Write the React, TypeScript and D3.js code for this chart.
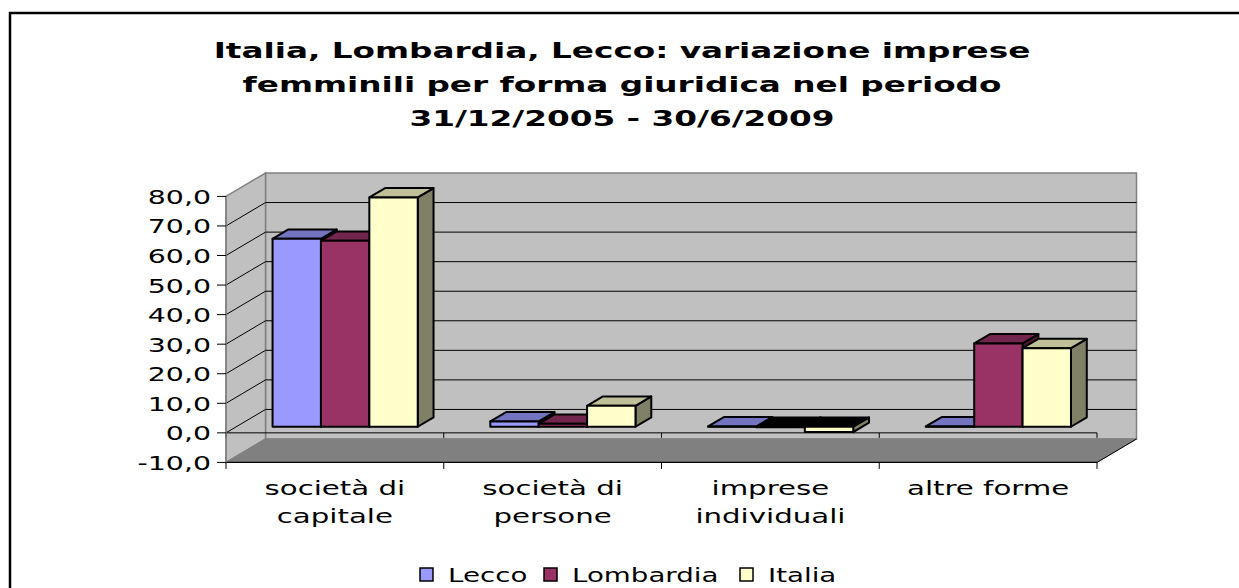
import React from "react";
import * as d3 from "d3";

// ---- data ----
const categories = ["società di capitale", "società di persone", "imprese individuali", "altre forme"];
const categoryLines = [["società di", "capitale"], ["società di", "persone"], ["imprese", "individuali"], ["altre forme"]];
const seriesNames = ["Lecco", "Lombardia", "Italia"];
const lecco = [63.6, 1.8, 0.1, 0.1];
const lombardia = [62.9, 1.0, -0.2, 28.2];
const italia = [77.6, 7.1, -1.8, 26.6];
const seriesValues = [lecco, lombardia, italia];
const seriesColors = ["#9999FF", "#993366", "#FFFFCC"];
const yTicks = [-10, 0, 10, 20, 30, 40, 50, 60, 70, 80];
const titleLines = [
  "Italia, Lombardia, Lecco: variazione imprese",
  "femminili per forma giuridica nel periodo",
  "31/12/2005 - 30/6/2009",
];

const W = 1239;
const H = 588;
const FONT = "Verdana, 'DejaVu Sans', sans-serif";

const fmt = d3
  .formatLocale({ decimal: ",", thousands: ".", grouping: [3], currency: ["", "€"], minus: "-" })
  .format(".1f");

function shade(c: string, k: number) {
  const col = d3.rgb(c);
  return d3.rgb(col.r * k, col.g * k, col.b * k).formatHex();
}

function SText(props: {
  x: number; y: number; sx: number; size: number; anchor?: string; bold?: boolean; children: React.ReactNode;
}) {
  const { x, y, sx, size, anchor, bold, children } = props;
  return (
    <g transform={`translate(${x},${y}) scale(${sx},1)`}>
      <text
        x={0}
        y={0}
        textAnchor={anchor || "start"}
        fontFamily={FONT}
        fontSize={size}
        fontWeight={bold ? "bold" : "normal"}
        fill="#000"
      >
        {children}
      </text>
    </g>
  );
}

export default function App() {
  const x0 = 226;
  const x1 = 1097;
  const DX = 39.5;
  const DY = -23.4;
  const y = d3.scaleLinear().domain([-10, 80]).range([462.4, 196.4]);
  const xCat = d3.scaleBand<string>().domain(categories).range([x0, x1]);
  const xSer = d3
    .scaleBand<string>()
    .domain(seriesNames)
    .range([0, xCat.bandwidth()])
    .paddingInner(0)
    .paddingOuter(0.75);
  const bw = xSer.bandwidth();
  const f1 = 0.26;
  const f2 = 0.66;
  const bdx = (f2 - f1) * DX;
  const bdy = (f2 - f1) * DY;

  const yTop = y(80);
  const yBot = y(-10);

  const pts = (a: number[][]) => a.map((p) => p.join(",")).join(" ");

  const bars: React.ReactNode[] = [];
  categories.forEach((c, ci) => {
    seriesNames.forEach((s, si) => {
      const v = seriesValues[si][ci];
      const color = seriesColors[si];
      const bx = (xCat(c) as number) + (xSer(s) as number) + f1 * DX;
      const yt = y(Math.max(v, 0)) + f1 * DY;
      const yb = y(Math.min(v, 0)) + f1 * DY;
      const topFill = v < 0 ? "#000" : shade(color, 0.75);
      bars.push(
        <g key={`${ci}-${si}`} stroke="#000" strokeWidth={2} strokeLinejoin="round">
          <polygon
            points={pts([[bx + bw, yt], [bx + bw + bdx, yt + bdy], [bx + bw + bdx, yb + bdy], [bx + bw, yb]])}
            fill={shade(color, 0.5)}
          />
          <polygon
            points={pts([[bx, yt], [bx + bw, yt], [bx + bw + bdx, yt + bdy], [bx + bdx, yt + bdy]])}
            fill={topFill}
          />
          <rect x={bx} y={yt} width={bw} height={Math.max(yb - yt, 0)} fill={color} />
        </g>
      );
    });
  });

  const boundaries = d3.range(categories.length + 1).map((i) => x0 + i * xCat.step());

  // legend layout
  const legendWidths = [78, 150, 68];
  const legendX: number[] = [];
  let lx = 420;
  legendWidths.forEach((w) => {
    legendX.push(lx);
    lx += 13 + 17 + w + 16;
  });

  return (
    <svg
      width={W}
      height={H}
      style={{ position: "absolute", left: 0, top: 0, background: "#fff" }}
      xmlns="http://www.w3.org/2000/svg"
    >
      <rect x={10} y={13} width={1250} height={620} fill="#fff" stroke="#000" strokeWidth={2.5} />

      {/* title */}
      {titleLines.map((t, i) => (
        <SText key={i} x={622} y={58 + i * 34} sx={1.52} size={21.5} anchor="middle" bold>
          {t}
        </SText>
      ))}

      {/* back wall */}
      <polygon
        points={pts([[x0 + DX, yTop + DY], [x1 + DX, yTop + DY], [x1 + DX, yBot + DY], [x0 + DX, yBot + DY]])}
        fill="#C0C0C0"
        stroke="#808080"
        strokeWidth={1.5}
      />
      {/* left wall */}
      <polygon
        points={pts([[x0, yTop], [x0 + DX, yTop + DY], [x0 + DX, yBot + DY], [x0, yBot]])}
        fill="#C0C0C0"
        stroke="#808080"
        strokeWidth={1.5}
      />
      {/* floor */}
      <polygon
        points={pts([[x0, yBot], [x0 + DX, yBot + DY], [x1 + DX, yBot + DY], [x1, yBot]])}
        fill="#808080"
        stroke="#808080"
        strokeWidth={1}
      />
      <line x1={x0} y1={yBot} x2={x1} y2={yBot} stroke="#000" strokeWidth={1.2} />
      <line x1={x1} y1={yBot} x2={x1 + DX} y2={yBot + DY} stroke="#000" strokeWidth={1} />

      {/* gridlines */}
      {yTicks
        .filter((t) => t > -10 && t < 80)
        .map((t) => (
          <g key={t} stroke="#000" strokeWidth={1}>
            <line x1={x0 + DX} y1={y(t) + DY} x2={x1 + DX} y2={y(t) + DY} />
            <line x1={x0} y1={y(t)} x2={x0 + DX} y2={y(t) + DY} />
          </g>
        ))}

      {/* zero category line */}
      <line x1={x0} y1={y(0)} x2={x1} y2={y(0)} stroke="#000" strokeWidth={1} />
      {boundaries.map((bx, i) => (
        <g key={i} stroke="#000" strokeWidth={1}>
          <line x1={bx} y1={y(0)} x2={bx} y2={y(0) + 5} />
          <line x1={bx} y1={yBot} x2={bx} y2={yBot + 6.5} />
        </g>
      ))}

      {/* y axis */}
      <line x1={x0} y1={yTop} x2={x0} y2={yBot} stroke="#808080" strokeWidth={1.5} />
      {yTicks.map((t) => (
        <g key={t}>
          <line x1={x0 - 9} y1={y(t)} x2={x0} y2={y(t)} stroke="#000" strokeWidth={1} />
          <SText x={x0 - 15} y={y(t) + 7.5} sx={1.42} size={20} anchor="end">
            {fmt(t)}
          </SText>
        </g>
      ))}

      {/* bars */}
      {bars}

      {/* category labels */}
      {categories.map((c, ci) => (
        <g key={c}>
          {categoryLines[ci].map((ln, li) => (
            <SText
              key={li}
              x={(xCat(c) as number) + xCat.bandwidth() / 2}
              y={495 + li * 28}
              sx={1.5}
              size={19.5}
              anchor="middle"
            >
              {ln}
            </SText>
          ))}
        </g>
      ))}

      {/* legend */}
      {seriesNames.map((s, si) => (
        <g key={s}>
          <rect x={legendX[si]} y={568} width={13} height={13} fill={seriesColors[si]} stroke="#000" strokeWidth={1.5} />
          <SText x={legendX[si] + 28} y={581.5} sx={1.42} size={19.5}>
            {s}
          </SText>
        </g>
      ))}
    </svg>
  );
}
